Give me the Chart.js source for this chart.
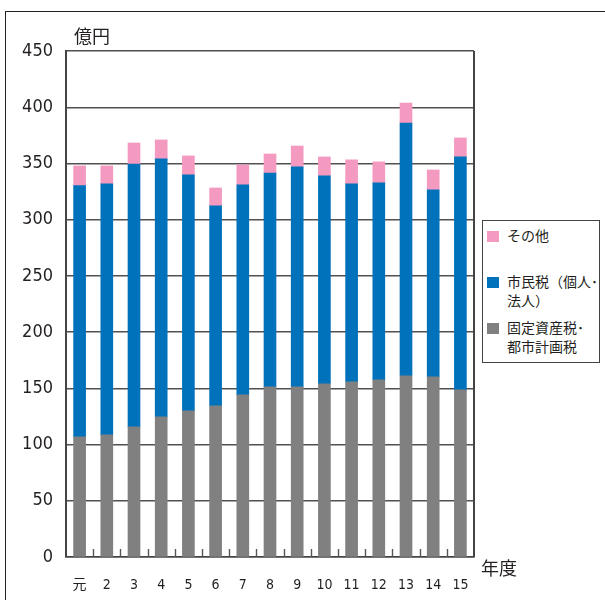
<!DOCTYPE html>
<html lang="ja">
<head>
<meta charset="utf-8">
<title>市税収入の推移</title>
<script src="https://cdn.jsdelivr.net/npm/chart.js@4/dist/chart.umd.min.js"></script>
<style>
  html, body { margin: 0; padding: 0; background: #fff; }
  #wrap { position: relative; width: 605px; height: 600px; overflow: hidden;
          font-family: "Noto Sans CJK JP", "Liberation Sans Narrow", sans-serif; color: #231f20; }
  #frame { position: absolute; left: 5px; top: 11px; width: 800px; height: 800px;
           border-top: 1.2px solid #222; border-left: 1.2px solid #222; }
  #chart { position: absolute; left: 0; top: 0; }
  .unit { position: absolute; font-size: 18px; line-height: 18px; white-space: nowrap; }
  #legend { position: absolute; left: 482px; top: 220px; width: 116px; height: 141px;
            border: 1.5px solid #444; background: #fff; }
  .item { position: absolute; left: 0; width: 116px; }
  .sw { position: absolute; left: 4px; top: 0; width: 12px; height: 11px; }
  .tx { position: absolute; left: 24px; top: -5px; font-size: 14px; line-height: 19px; white-space: nowrap; }
</style>
</head>
<body>
<div id="wrap">
  <div id="frame"></div>
  <canvas id="chart" width="605" height="600"></canvas>
  <div class="unit" style="left:74px; top:26px;">億円</div>
  <div class="unit" style="left:481px; top:558px;">年度</div>
  <div id="legend"></div>
</div>
<script>
// 年度
const years = ['元', '2', '3', '4', '5', '6', '7', '8', '9', '10', '11', '12', '13', '14', '15'];

// 税目別の収入額（億円）
const propertyTax = [106.9, 108.6, 115.7, 124.6, 129.9, 134.4, 144.2, 151.3, 151.3, 154.0, 155.7, 157.5, 161.1, 160.2, 148.6];
const residentTax = [223.4, 223.2, 233.8, 229.4, 209.9, 177.8, 186.7, 190.2, 195.6, 184.9, 176.1, 175.2, 224.9, 166.3, 207.2];
const otherTax    = [17.5, 16.0, 18.7, 16.9, 16.9, 16.0, 17.8, 16.9, 18.6, 16.9, 21.4, 18.7, 17.7, 17.7, 16.9];

const seriesLabels = ['固定資産税･都市計画税', '市民税（個人･法人）', 'その他'];
const seriesColors = ['#808080', '#0072bc', '#f49ac1'];

// y 軸目盛
const yMin = 0, yMax = 450, yStep = 50;

const narrow = "'Liberation Sans Narrow', 'DejaVu Sans Condensed', 'Noto Sans CJK JP', sans-serif";

// 右枠線と、x 軸上の年度の区切り目盛
const framePlugin = {
  id: 'framePlugin',
  afterDatasetsDraw(chart) {
    const { ctx, chartArea, scales } = chart;
    const x = scales.x, y = scales.y;
    ctx.save();
    ctx.strokeStyle = '#444';
    ctx.lineWidth = 2;
    ctx.beginPath();
    ctx.moveTo(chartArea.right, chartArea.top);
    ctx.lineTo(chartArea.right, chartArea.bottom);
    ctx.stroke();
    ctx.lineWidth = 1.4;
    ctx.strokeStyle = '#555';
    const base = y.getPixelForValue(0);
    for (let i = 0; i < years.length - 1; i++) {
      const bx = Math.round((x.getPixelForValue(i) + x.getPixelForValue(i + 1)) / 2) + 0.5;
      ctx.beginPath();
      ctx.moveTo(bx, base);
      ctx.lineTo(bx, base - 8);
      ctx.stroke();
    }
    ctx.restore();
  }
};

const data = {
  labels: years,
  datasets: [propertyTax, residentTax, otherTax].map((values, i) => ({
    label: seriesLabels[i],
    data: values,
    backgroundColor: seriesColors[i],
    borderWidth: 0,
    barThickness: 12
  }))
};

const chart = new Chart(document.getElementById('chart'), {
  type: 'bar',
  data,
  plugins: [framePlugin],
  options: {
    responsive: false,
    animation: false,
    layout: { padding: { top: 51, right: 131, left: 0, bottom: 0 } },
    plugins: {
      legend: { display: false },
      tooltip: { enabled: false }
    },
    scales: {
      x: {
        stacked: true,
        offset: true,
        grid: { display: false },
        border: { display: true, color: '#444', width: 1.6 },
        ticks: { color: '#231f20', font: { family: narrow, size: 14 }, padding: 12, maxRotation: 0, autoSkip: false },
        afterFit(scale) { scale.height = 43; }
      },
      y: {
        stacked: true,
        min: yMin,
        max: yMax,
        grid: { color: '#505050', lineWidth: 1.4, drawTicks: false },
        border: { display: true, color: '#444', width: 2 },
        ticks: { stepSize: yStep, color: '#231f20', font: { family: narrow, size: 18 }, padding: 13 },
        afterFit(scale) { scale.width = 66; }
      }
    }
  }
});

// 凡例（積み上げの上から順に表示）
const legend = document.getElementById('legend');
const itemTops = [10, 56, 102];
data.datasets.slice().reverse().forEach((ds, k) => {
  const item = document.createElement('div');
  item.className = 'item';
  item.style.top = itemTops[k] + 'px';
  const sw = document.createElement('div');
  sw.className = 'sw';
  sw.style.background = ds.backgroundColor;
  const tx = document.createElement('div');
  tx.className = 'tx';
  const parts = ds.label.split('･');
  if (parts.length > 1 && parts[1]) {
    tx.appendChild(document.createTextNode(parts[0] + '･'));
    tx.appendChild(document.createElement('br'));
    tx.appendChild(document.createTextNode(parts.slice(1).join('･')));
  } else {
    tx.textContent = ds.label;
  }
  item.appendChild(sw);
  item.appendChild(tx);
  legend.appendChild(item);
});
</script>
</body>
</html>
